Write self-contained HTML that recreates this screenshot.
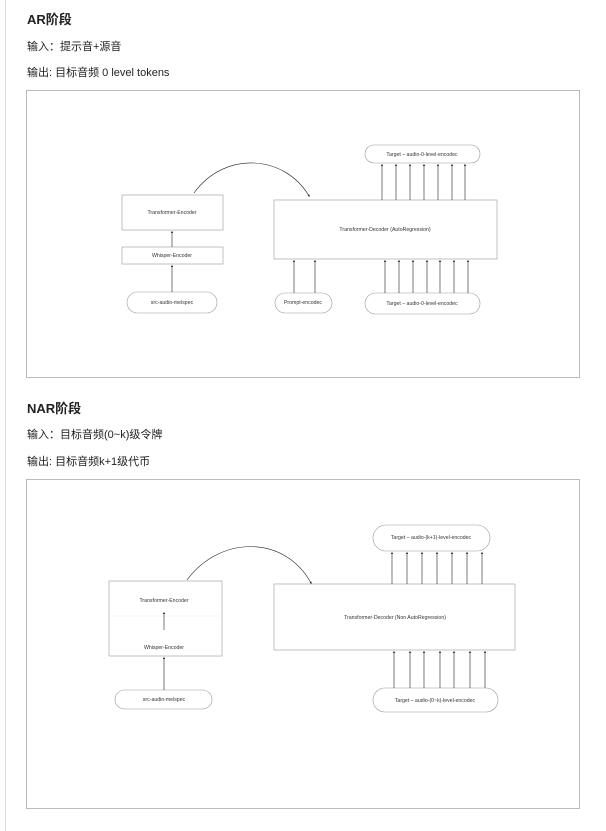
<!DOCTYPE html>
<html><head><meta charset="utf-8"><style>
body{margin:0;width:606px;height:831px;background:#fff;overflow:hidden;position:relative;font-family:"Liberation Sans","Noto Sans CJK SC",sans-serif;color:#222}
.t{position:absolute;left:27px;white-space:nowrap}
.h{font-weight:bold;font-size:13px}
.p{font-size:11px}
svg{position:absolute;left:0;top:0}
</style></head><body>
<div class="t h" style="top:9px">AR阶段</div>
<div class="t p" style="top:38px">输入：提示音+源音</div>
<div class="t p" style="top:64px">输出: 目标音频 0 level tokens</div>
<div class="t h" style="top:398px">NAR阶段</div>
<div class="t p" style="top:426px">输入：目标音频(0~k)级令牌</div>
<div class="t p" style="top:453px">输出: 目标音频k+1级代币</div>
<svg width="606" height="831" font-family="Liberation Sans, sans-serif" font-size="5.2" fill="#333">
<defs><marker id="a" markerWidth="4" markerHeight="4" refX="2" refY="2" orient="auto"><path d="M0,0L4,2L0,4z" fill="#222"/></marker></defs>
<line x1="5.5" y1="0" x2="5.5" y2="831" stroke="#ddd"/>
<g fill="none" stroke="#bbb" stroke-width="1">
<rect x="26.5" y="90.5" width="553" height="287"/>
<rect x="26.5" y="479.5" width="553" height="329"/>
</g>
<g fill="#fff" stroke="#999" stroke-width="0.6">
<rect x="122" y="195" width="101" height="35"/>
<rect x="122" y="247" width="101" height="17"/>
<rect x="127" y="292" width="90" height="21" rx="10.5"/>
<rect x="274" y="200" width="223" height="59"/>
<rect x="365" y="145" width="115" height="18" rx="9"/>
<rect x="275" y="293" width="57" height="20" rx="10"/>
<rect x="365" y="293" width="115" height="21" rx="10.5"/>
<rect x="109" y="581" width="113" height="75"/>
<line x1="109" y1="616" x2="222" y2="616" stroke="#eee"/>
<rect x="115" y="690" width="97" height="19" rx="9.5"/>
<rect x="274" y="584" width="241" height="66"/>
<rect x="373" y="525" width="117" height="26" rx="13"/>
<rect x="373" y="688" width="125" height="24" rx="12"/>
</g>
<g stroke="#222" stroke-width="0.6" fill="none" marker-end="url(#a)">
<line x1="172" y1="247" x2="172" y2="232"/>
<line x1="172" y1="292" x2="172" y2="266"/>
<line x1="382" y1="200" x2="382" y2="165"/><line x1="396" y1="200" x2="396" y2="165"/><line x1="410" y1="200" x2="410" y2="165"/><line x1="424" y1="200" x2="424" y2="165"/><line x1="438" y1="200" x2="438" y2="165"/><line x1="452" y1="200" x2="452" y2="165"/><line x1="465" y1="200" x2="465" y2="165"/>
<line x1="294" y1="293" x2="294" y2="261"/><line x1="315" y1="293" x2="315" y2="261"/>
<line x1="385" y1="293" x2="385" y2="261"/><line x1="399" y1="293" x2="399" y2="261"/><line x1="413" y1="293" x2="413" y2="261"/><line x1="427" y1="293" x2="427" y2="261"/><line x1="440" y1="293" x2="440" y2="261"/><line x1="454" y1="293" x2="454" y2="261"/><line x1="468" y1="293" x2="468" y2="261"/>
<path d="M194,193 C225,150 285,155 309,196"/>
<line x1="164" y1="630" x2="164" y2="613"/>
<line x1="164" y1="690" x2="164" y2="658"/>
<line x1="392" y1="584" x2="392" y2="553"/><line x1="407" y1="584" x2="407" y2="553"/><line x1="422" y1="584" x2="422" y2="553"/><line x1="437" y1="584" x2="437" y2="553"/><line x1="452" y1="584" x2="452" y2="553"/><line x1="467" y1="584" x2="467" y2="553"/><line x1="482" y1="584" x2="482" y2="553"/>
<line x1="394" y1="688" x2="394" y2="652"/><line x1="410" y1="688" x2="410" y2="652"/><line x1="424" y1="688" x2="424" y2="652"/><line x1="440" y1="688" x2="440" y2="652"/><line x1="454" y1="688" x2="454" y2="652"/><line x1="470" y1="688" x2="470" y2="652"/><line x1="485" y1="688" x2="485" y2="652"/>
<path d="M187,580 C220,535 285,535 311,583"/>
</g>
<g text-anchor="middle">
<text x="172" y="214">Transformer-Encoder</text>
<text x="172" y="257">Whisper-Encoder</text>
<text x="172" y="304">src-audio-melspec</text>
<text x="385" y="231">Transformer-Decoder    (AutoRegression)</text>
<text x="422" y="156">Target – audio-0-level-encodec</text>
<text x="303" y="304">Prompt-encodec</text>
<text x="422" y="305">Target – audio-0-level-encodec</text>
<text x="164" y="602">Transformer-Encoder</text>
<text x="164" y="649">Whisper-Encoder</text>
<text x="164" y="701">src-audio-melspec</text>
<text x="395" y="619">Transformer-Decoder    (Non AutoRegression)</text>
<text x="431" y="539">Target – audio-(k+1)-level-encodec</text>
<text x="435" y="702">Target – audio-(0~k)-level-encodec</text>
</g>
</svg>
</body></html>
